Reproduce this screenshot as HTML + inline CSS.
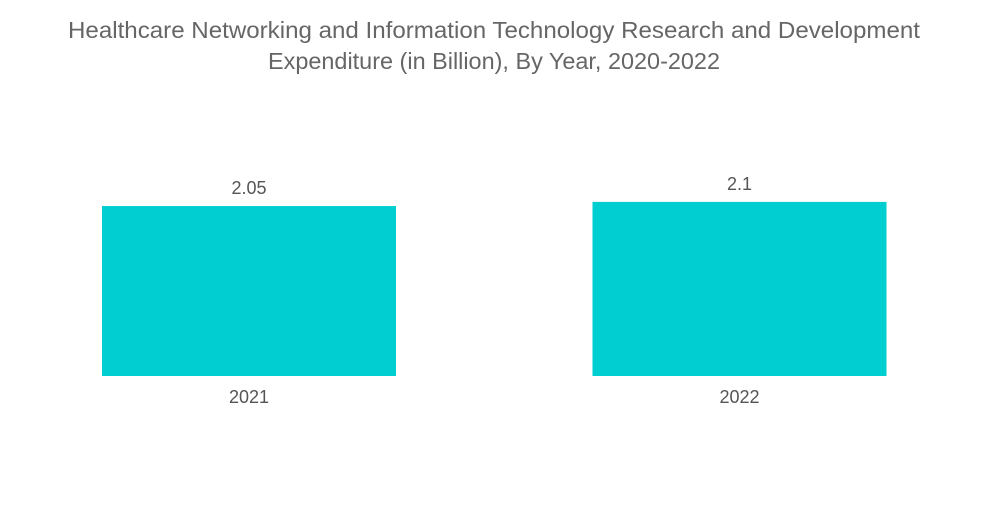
<!DOCTYPE html>
<html><head><meta charset="utf-8"><style>
body{margin:0;background:#fff;width:1000px;height:504px;overflow:hidden;font-family:"Liberation Sans",sans-serif}
</style></head><body>
<svg width="1000" height="504">
<text x="494" y="38" text-anchor="middle" font-size="23" fill="#666" textLength="852" lengthAdjust="spacingAndGlyphs">Healthcare Networking and Information Technology Research and Development</text>
<text x="494" y="69" text-anchor="middle" font-size="23" fill="#666" textLength="452" lengthAdjust="spacingAndGlyphs">Expenditure (in Billion), By Year, 2020-2022</text>
<g id="bars"></g>
</svg>
<script>
const categories=["2021","2022"];
const values=[2.05,2.1];
const valueLabels=["2.05","2.1"];
const baseY=376, pxPerUnit=82.9, barW=294;
const centers=[249,739.5];
function y(v){return baseY-v*pxPerUnit;}
const g=document.getElementById('bars');
const ns="http://www.w3.org/2000/svg";
categories.forEach((c,i)=>{
  const r=document.createElementNS(ns,'rect');
  
  
  r.setAttribute('x',centers[i]-barW/2);r.setAttribute('y',y(values[i]));
  r.setAttribute('width',barW);r.setAttribute('height',baseY-y(values[i]));
  r.setAttribute('fill','#00ced1');g.appendChild(r);
  const t=document.createElementNS(ns,'text');
  
  
  t.setAttribute('x',centers[i]);t.setAttribute('y',y(values[i])-12);
  t.setAttribute('text-anchor','middle');t.setAttribute('font-size','18');t.setAttribute('fill','#555');
  t.textContent=valueLabels[i];g.appendChild(t);
  const l=document.createElementNS(ns,'text');
  
  
  l.setAttribute('x',centers[i]);l.setAttribute('y',403);
  l.setAttribute('text-anchor','middle');l.setAttribute('font-size','18');l.setAttribute('fill','#555');
  l.textContent=c;g.appendChild(l);
});
</script>
</body></html>
